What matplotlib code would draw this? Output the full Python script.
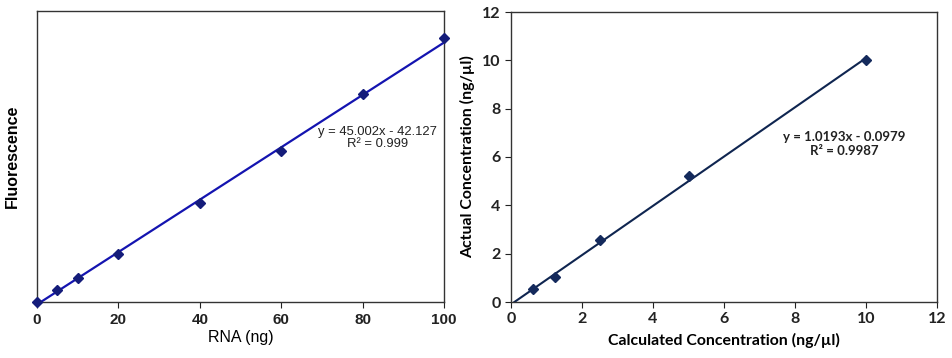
import matplotlib
matplotlib.use("Agg")
import matplotlib.pyplot as plt
import numpy as np

# left panel: fluorescence vs RNA
rna_ng = [0, 5, 10, 20, 40, 60, 80, 100]
fluor = [0, 206, 413, 826, 1704, 2599, 3580, 4544]
fit1_slope, fit1_icpt = 45.002, -42.127
fit1_r2 = "0.999"

# right panel: actual vs calculated concentration
calc_conc = [0.625, 1.25, 2.5, 5, 10]
actual_conc = [0.55, 1.02, 2.55, 5.22, 10.0]
fit2_slope, fit2_icpt = 1.0193, -0.0979
fit2_r2 = "0.9987"

W, H = 952, 358
fig = plt.figure(figsize=(W / 100, H / 100), dpi=100)

# ---- left chart ----
ax1 = fig.add_axes([37 / W, 56 / H, 407 / W, 291 / H])
x0 = -fit1_icpt / fit1_slope
xs = np.array([x0, 100])
ax1.plot(xs, fit1_slope * xs + fit1_icpt, color='#1414b0', linewidth=1.6, zorder=2)
ax1.plot(rna_ng, fluor, linestyle='none', marker='D', markersize=5,
         color='#141c7a', zorder=3, clip_on=False)
ax1.set_xlim(0, 100)
ax1.set_ylim(0, 5000)
ax1.set_xticks([0, 20, 40, 60, 80, 100])
ax1.set_yticks([])
ax1.tick_params(axis='x', direction='out', length=4, labelsize=11, pad=4,
                colors='#222222')
for lbl in ax1.get_xticklabels():
    lbl.set_family('Liberation Sans')
    lbl.set_fontweight('bold')
for sp in ax1.spines.values():
    sp.set_linewidth(1.0)
    sp.set_color('#333333')
ax1.set_xlabel('RNA (ng)', fontsize=11.5, family='Liberation Sans', labelpad=2)
ax1.set_ylabel('Fluorescence', fontsize=11.5, family='Liberation Sans',
               fontweight='bold', labelpad=12)
ax1.text(0.836, 0.562, 'y = %.3fx - %.3f\nR² = %s' % (fit1_slope, -fit1_icpt, fit1_r2),
         transform=ax1.transAxes, ha='center', va='center', fontsize=9.4,
         family='Liberation Sans', color='#222222', linespacing=1.0)

# ---- right chart ----
ax2 = fig.add_axes([511 / W, 56 / H, 426 / W, 290 / H])
x0b = -fit2_icpt / fit2_slope
xs2 = np.array([x0b, 10])
ax2.plot(xs2, fit2_slope * xs2 + fit2_icpt, color='#0f2550', linewidth=1.5, zorder=2)
ax2.plot(calc_conc, actual_conc, linestyle='none', marker='D', markersize=5.5,
         color='#142a5c', zorder=3)
ax2.set_xlim(0, 12)
ax2.set_ylim(0, 12)
ax2.set_xticks(range(0, 13, 2))
ax2.set_yticks(range(0, 13, 2))
ax2.tick_params(direction='out', length=4, labelsize=11.5, colors='#222222')
for lbl in ax2.get_xticklabels() + ax2.get_yticklabels():
    lbl.set_family('Lato')
    lbl.set_fontweight('bold')
for sp in ax2.spines.values():
    sp.set_linewidth(1.0)
    sp.set_color('#333333')
ax2.set_xlabel('Calculated Concentration (ng/µl)', fontsize=11.4, family='Lato',
               fontweight='bold', labelpad=5)
ax2.set_ylabel('Actual Concentration (ng/µl)', fontsize=11.4, family='Lato',
               fontweight='bold', labelpad=5)
ax2.text(0.783, 0.545, 'y = %.4fx - %.4f\nR² = %s' % (fit2_slope, -fit2_icpt, fit2_r2),
         transform=ax2.transAxes, ha='center', va='center', fontsize=9.5,
         family='Lato', fontweight='bold', color='#222222', linespacing=1.15)

fig.savefig('out.png', dpi=100)
